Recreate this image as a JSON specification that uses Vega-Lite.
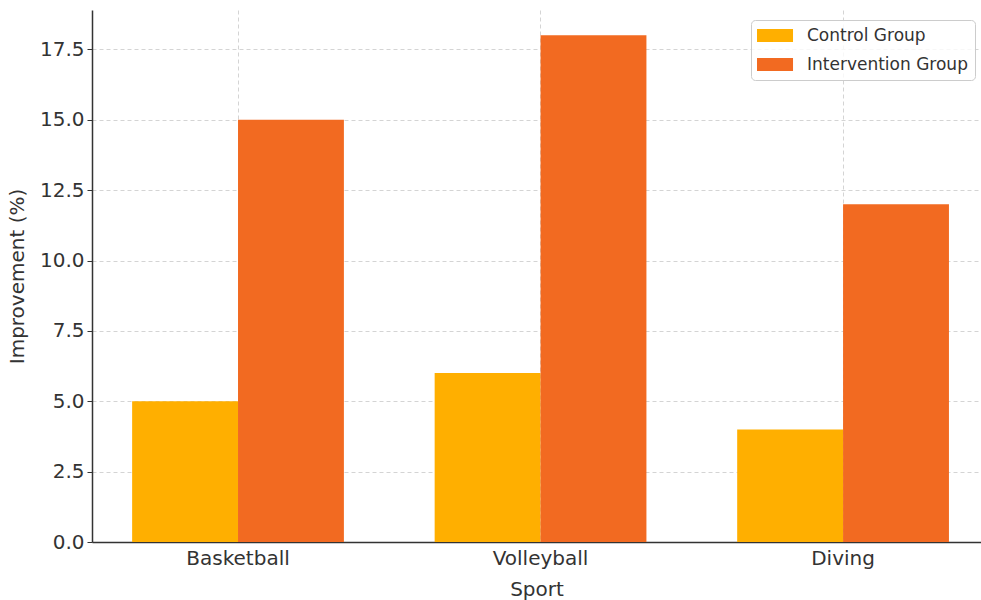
{
  "$schema": "https://vega.github.io/schema/vega-lite/v6.json",
  "autosize": {"type": "none"},
  "padding": {"left": 92, "top": 10, "right": 0, "bottom": 58},
  "width": 889,
  "height": 532,
  "background": "white",
  "config": {
    "view": {"stroke": null},
    "font": "DejaVu Sans",
    "axis": {
      "labelFont": "DejaVu Sans",
      "titleFont": "DejaVu Sans",
      "labelColor": "#333333",
      "titleColor": "#333333",
      "titleFontWeight": "normal",
      "domainColor": "#333333",
      "domainWidth": 1.5,
      "tickColor": "#333333",
      "gridColor": "#d4d4d4",
      "gridDash": [4, 3],
      "gridWidth": 1
    }
  },
  "data": {
    "values": [
      {"Sport": "Basketball", "Group": "Control Group", "Improvement": 5},
      {"Sport": "Basketball", "Group": "Intervention Group", "Improvement": 15},
      {"Sport": "Volleyball", "Group": "Control Group", "Improvement": 6},
      {"Sport": "Volleyball", "Group": "Intervention Group", "Improvement": 18},
      {"Sport": "Diving", "Group": "Control Group", "Improvement": 4},
      {"Sport": "Diving", "Group": "Intervention Group", "Improvement": 12}
    ]
  },
  "mark": {"type": "bar"},
  "encoding": {
    "x": {
      "field": "Sport",
      "type": "nominal",
      "sort": ["Basketball", "Volleyball", "Diving"],
      "scale": {"paddingInner": 0.3, "paddingOuter": 0.1193, "align": 0.556},
      "axis": {
        "title": "Sport",
        "titleFontSize": 20,
        "titlePadding": 11,
        "labelFontSize": 20,
        "labelAngle": 0,
        "labelPadding": 6,
        "ticks": false,
        "grid": true,
        "bandPosition": 0.5
      }
    },
    "xOffset": {
      "field": "Group",
      "type": "nominal",
      "scale": {"paddingInner": 0, "paddingOuter": 0}
    },
    "y": {
      "field": "Improvement",
      "type": "quantitative",
      "scale": {"domain": [0, 18.9], "nice": false},
      "axis": {
        "title": "Improvement (%)",
        "titleFontSize": 20,
        "titlePadding": 12,
        "labelFontSize": 20,
        "labelPadding": 3,
        "tickSize": 5,
        "values": [0, 2.5, 5, 7.5, 10, 12.5, 15, 17.5],
        "format": ".1f",
        "grid": true
      }
    },
    "color": {
      "field": "Group",
      "type": "nominal",
      "scale": {
        "domain": ["Control Group", "Intervention Group"],
        "range": ["#FFAF00", "#F26A21"]
      },
      "legend": {
        "title": null,
        "orient": "none",
        "legendX": 659,
        "legendY": 10,
        "symbolType": "M-1.46,-1L4.08,-1L4.08,1L-1.46,1Z",
        "symbolSize": 169,
        "symbolStrokeWidth": 0,
        "labelFont": "DejaVu Sans",
        "labelFontSize": 17,
        "labelColor": "#333333",
        "labelOffset": 32,
        "labelLimit": 400,
        "padding": 7,
        "rowPadding": 11,
        "fillColor": "rgba(255,255,255,0.8)",
        "strokeColor": "#cccccc",
        "cornerRadius": 4
      }
    }
  }
}
